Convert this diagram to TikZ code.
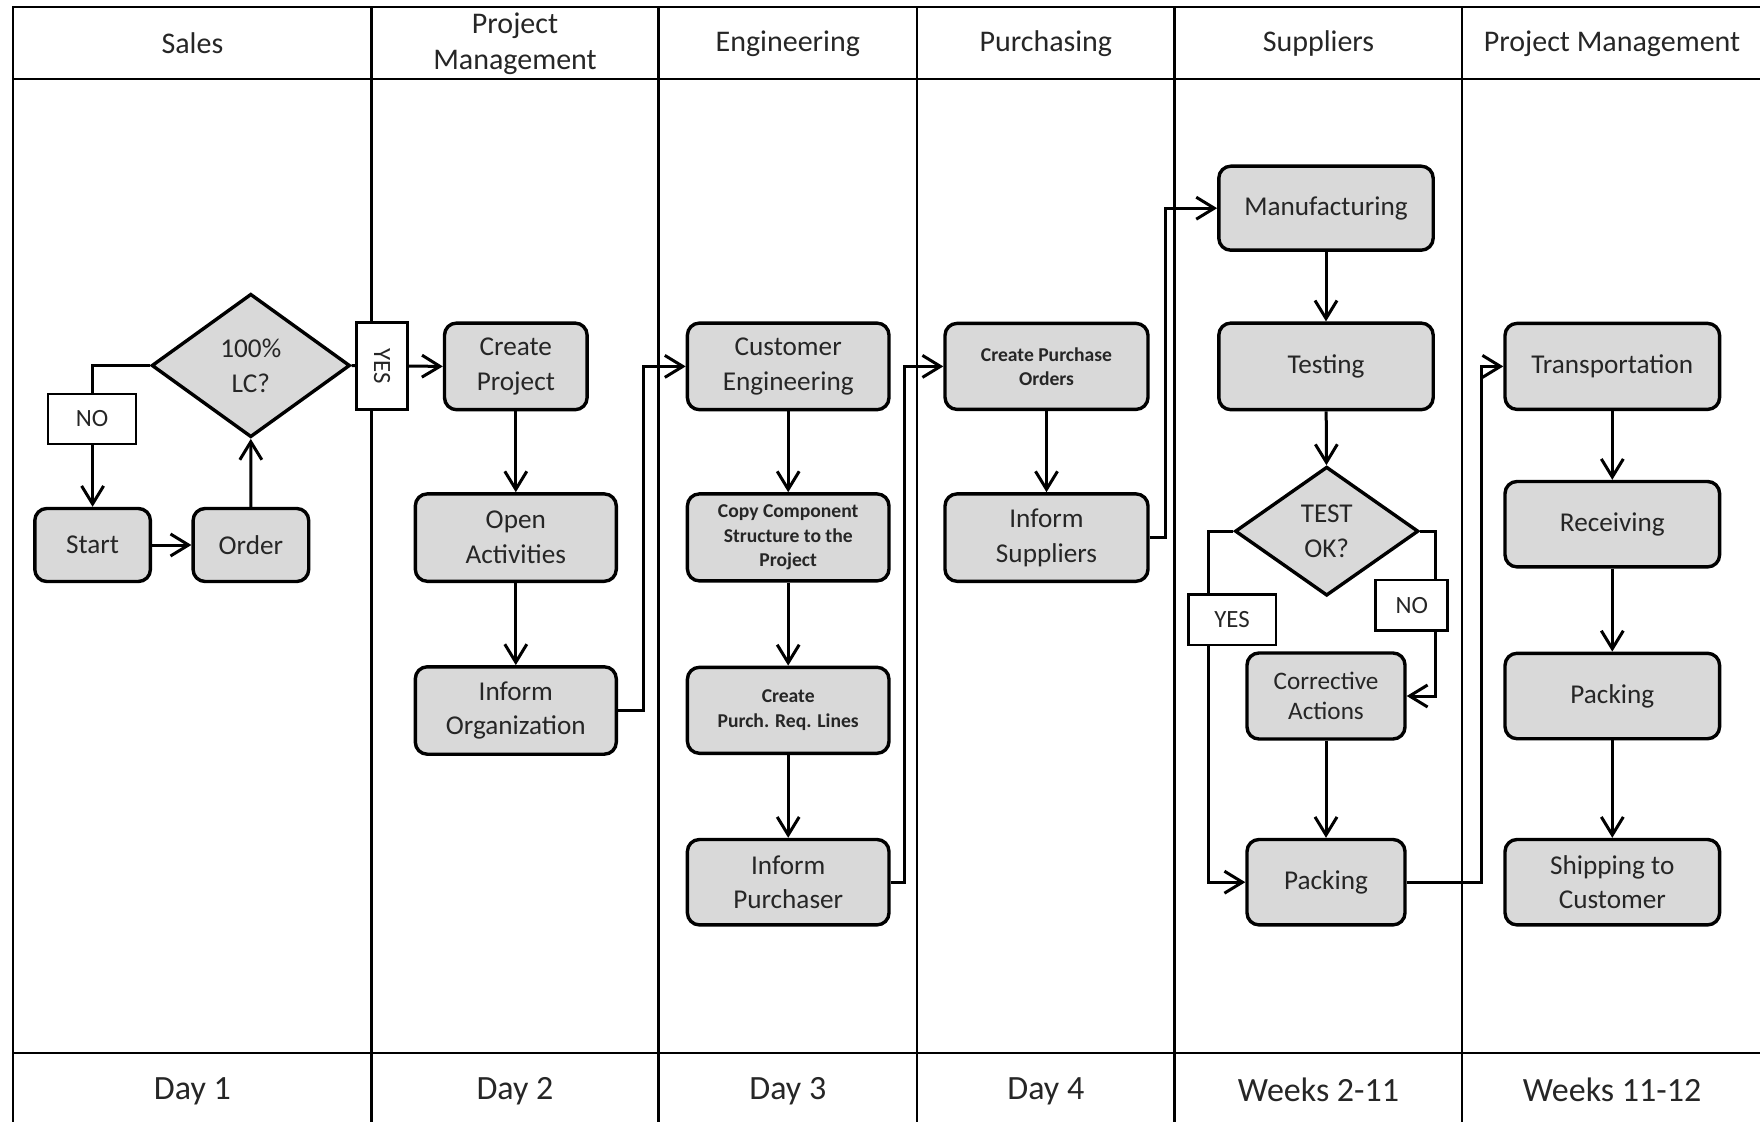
\documentclass[tikz,border=0pt]{standalone}
\usepackage{fontspec}
\setmainfont{Carlito}
\usetikzlibrary{arrows.meta,shapes.geometric}

\definecolor{boxfill}{HTML}{D9D9D9}
\definecolor{ink}{HTML}{262626}

\tikzset{
  proc/.style={draw=black, fill=boxfill, line width=1.7pt, rounded corners=6pt,
    align=center, inner sep=2pt, text=ink,
    font=\fontsize{13.6}{17.4}\selectfont},
  small/.style={font=\bfseries\fontsize{9.8}{12.2}\selectfont},
  decision/.style={draw=black, fill=boxfill, line width=1.7pt, diamond, aspect=1,
    inner sep=0pt, align=center, text=ink,
    font=\fontsize{13.6}{17.4}\selectfont},
  lbl/.style={draw=black, fill=white, line width=1.3pt, inner sep=0pt,
    text=ink, font=\fontsize{12.4}{14}\selectfont},
  conn/.style={line width=1.5pt, -{Straight Barb[length=9pt,width=11pt,line width=1.5pt]}},
  lane/.style={line width=1.1pt},
  head/.style={align=center, text=ink, font=\fontsize{15}{18}\selectfont},
  foot/.style={text=ink, font=\fontsize{17}{20}\selectfont},
}

\begin{document}
\begin{tikzpicture}[x={(0.5pt,0)}, y={(0,-0.5pt)}]
\useasboundingbox (0,0) rectangle (1760,1122);

% lanes and header / footer rules
\draw[lane] (13.3,1122) -- (13.3,7) -- (1760,7);
\draw[lane] (13.3,79) -- (1760,79);
\draw[lane] (13.3,1053) -- (1760,1053);
\foreach \lx in {371.5,658.5,917,1174.5,1462}
  \draw[lane] (\lx,7) -- (\lx,1122);

% lane titles
\node[head] (h1) at (192.4,43.5) {Sales};
\node[head] (h2) at (515,43.5) {Project\\Management};
\node[head] (h3) at (787.8,43.5) {Engineering};
\node[head] (h4) at (1045.8,43.5) {Purchasing};
\node[head] (h5) at (1318.5,43.5) {Suppliers};
\node[head] (h6) at (1612,43.5) {Project Management};

% time spans
\node[foot] (f1) at (192.4,1091) {Day 1};
\node[foot] (f2) at (515,1091) {Day 2};
\node[foot] (f3) at (787.8,1091) {Day 3};
\node[foot] (f4) at (1045.8,1091) {Day 4};
\node[foot] (f5) at (1318.5,1090) {Weeks 2-11};
\node[foot] (f6) at (1612,1090) {Weeks 11-12};

% Sales
\node[proc, minimum width=57.8pt, minimum height=36.5pt] (start) at (92.6,545) {Start};
\node[proc, minimum width=57.8pt, minimum height=36.5pt] (order) at (250.9,545) {Order};
\node[decision, minimum width=99.2pt, minimum height=71.7pt] (lc) at (250.8,365.5) {100\%\\LC?};

% Project Management
\node[proc, minimum width=71.3pt, minimum height=43.3pt] (cp) at (515.8,366.4) {Create\\Project};
\node[proc, minimum width=100.5pt, minimum height=43.7pt] (oa) at (515.8,537.6) {Open\\Activities};
\node[proc, minimum width=100.5pt, minimum height=43.7pt] (io) at (515.8,710.5) {Inform\\Organization};

% Engineering
\node[proc, minimum width=100.8pt, minimum height=43.3pt] (ce) at (788.2,366.4) {Customer\\Engineering};
\node[proc, small, minimum width=100.8pt, minimum height=43.5pt] (cc) at (788.2,537.4) {Copy Component\\Structure to the\\Project};
\node[proc, small, minimum width=100.8pt, minimum height=43pt] (pr) at (788.2,710.3) {Create\\Purch. Req. Lines};
\node[proc, minimum width=100.8pt, minimum height=42.7pt] (ip) at (788.2,882.2) {Inform\\Purchaser};

% Purchasing
\node[proc, small, minimum width=101.5pt, minimum height=43pt] (po) at (1046.5,366.4) {Create Purchase\\Orders};
\node[proc, minimum width=101.5pt, minimum height=43.7pt] (is) at (1046.5,537.6) {Inform\\Suppliers};

% Suppliers
\node[proc, minimum width=107.2pt, minimum height=42pt] (mfg) at (1326,208.2) {Manufacturing};
\node[proc, minimum width=107.2pt, minimum height=43.3pt] (tst) at (1326,366.4) {Testing};
\node[decision, minimum width=91.7pt, minimum height=64.5pt] (tok) at (1326.7,531.2) {TEST\\OK?};
\node[proc, minimum width=79pt, minimum height=43pt, font=\fontsize{12.6}{15}\selectfont] (ca) at (1326,696) {Corrective\\Actions};
\node[proc, minimum width=79pt, minimum height=42.7pt] (pks) at (1326,882.2) {Packing};

% Project Management (delivery)
\node[proc, minimum width=107.3pt, minimum height=43pt] (tr) at (1612.3,366.4) {Transportation};
\node[proc, minimum width=107.3pt, minimum height=42.7pt] (rc) at (1612.3,524.2) {Receiving};
\node[proc, minimum width=107.3pt, minimum height=42.7pt] (pkp) at (1612.3,696) {Packing};
\node[proc, minimum width=107.3pt, minimum height=42.7pt] (sh) at (1612.3,882.2) {Shipping to\\Customer};

% flow in Sales
\draw[conn] (start) -- (order);
\draw[conn] (order.north) -- (lc.south);
\draw[conn] (lc.west) -| (start.north);
\draw[conn] (lc.east) -- (cp.west);

% flow in Project Management
\draw[conn] (cp) -- (oa);
\draw[conn] (oa) -- (io);
\draw[conn] (io.east) -- ++(25,0) |- (ce.west);

% flow in Engineering
\draw[conn] (ce) -- (cc);
\draw[conn] (cc) -- (pr);
\draw[conn] (pr) -- (ip);
\draw[conn] (ip.east) -- ++(13.4,0) |- (po.west);

% flow in Purchasing
\draw[conn] (po) -- (is);
\draw[conn] (is.east) -- ++(15.8,0) |- (mfg.west);

% flow at the suppliers
\draw[conn] (mfg) -- (tst);
\draw[conn] (tst) -- (tok);
\draw[conn] (tok.west) -- ++(-24.5,0) |- (pks.west);
\draw[conn] (tok.east) -- ++(15.7,0) |- (ca.east);
\draw[conn] (ca) -- (pks);
\draw[conn] (pks.east) -- ++(74.3,0) |- (tr.west);

% delivery
\draw[conn] (tr) -- (rc);
\draw[conn] (rc) -- (pkp);
\draw[conn] (pkp) -- (sh);

% decision labels
\node[lbl, minimum width=44pt, minimum height=25pt] (no1) at (92,419) {NO};
\node[lbl, minimum width=25.3pt, minimum height=43.5pt] (yes1) at (382,365.8) {};
\node[rotate=-90, text=ink, font=\fontsize{12.4}{14}\selectfont] (yes1t) at (yes1) {YES};
\node[lbl, minimum width=43.8pt, minimum height=25.3pt] (yes2) at (1232,619.7) {YES};
\node[lbl, minimum width=36pt, minimum height=25.3pt] (no2) at (1411.7,605.3) {NO};
\end{tikzpicture}
\end{document}
